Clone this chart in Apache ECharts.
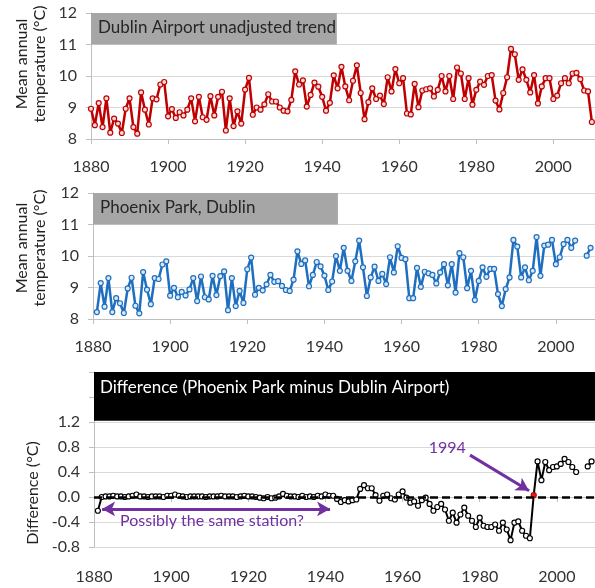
<!DOCTYPE html>
<html>
<head>
<meta charset="utf-8">
<script src="https://cdn.jsdelivr.net/npm/echarts@6/dist/echarts.min.js"></script>
<style>
  html, body { margin: 0; padding: 0; background: #ffffff; }
  #chart { width: 595px; height: 588px; }
</style>
</head>
<body>
<div id="chart"></div>
<script>
// Mean annual temperature (°C), one value per year from 1880 to 2010
const firstYear = 1880;

const airport = [
  8.96, 8.44, 9.14, 8.38, 9.29, 8.20, 8.65, 8.49, 8.19, 8.96,   // 1880s
  9.29, 8.38, 8.17, 9.48, 8.93, 8.46, 9.29, 9.26, 9.73, 9.81,   // 1890s
  8.72, 8.95, 8.67, 8.85, 8.75, 8.93, 9.29, 8.56, 9.34, 8.69,   // 1900s
  8.61, 9.36, 8.75, 9.34, 9.50, 8.27, 9.29, 8.41, 8.88, 8.49,   // 1910s
  9.57, 9.94, 8.77, 9.00, 8.93, 9.10, 9.42, 9.19, 9.19, 9.00,   // 1920s
  8.90, 8.88, 9.24, 10.15, 9.73, 9.86, 9.03, 9.40, 9.79, 9.66,  // 1930s
  9.34, 8.90, 9.15, 10.02, 9.61, 10.29, 9.67, 9.23, 9.85, 10.34, // 1940s
  9.46, 8.63, 9.17, 9.61, 9.27, 9.38, 9.11, 9.96, 9.51, 10.22,  // 1950s
  9.77, 9.93, 8.81, 8.78, 9.75, 9.01, 9.54, 9.58, 9.61, 9.35,   // 1960s
  9.56, 10.00, 9.51, 10.00, 9.27, 10.27, 10.08, 9.27, 9.93, 9.09, // 1970s
  9.56, 9.82, 9.72, 10.00, 10.03, 9.22, 8.94, 9.46, 9.96, 10.86, // 1980s
  10.69, 9.88, 10.21, 9.88, 9.48, 10.03, 9.13, 9.67, 9.93, 9.93, // 1990s
  9.27, 9.38, 9.77, 9.93, 9.77, 10.08, 10.10, 9.90, 9.54, 9.51,  // 2000s
  8.54                                                            // 2010
];

const phoenix = [
  null, 8.22, 9.14, 8.39, 9.30, 8.22, 8.66, 8.50, 8.19, 8.97,   // 1880s
  9.31, 8.42, 8.18, 9.49, 8.93, 8.47, 9.30, 9.27, 9.73, 9.83,   // 1890s
  8.74, 8.99, 8.69, 8.86, 8.75, 8.94, 9.30, 8.57, 9.35, 8.69,   // 1900s
  8.62, 9.37, 8.76, 9.36, 9.51, 8.28, 9.30, 8.41, 8.89, 8.51,   // 1910s
  9.58, 9.95, 8.77, 8.99, 8.91, 9.10, 9.40, 9.18, 9.20, 9.05,   // 1920s
  8.92, 8.89, 9.25, 10.15, 9.75, 9.86, 9.04, 9.40, 9.81, 9.67,  // 1930s
  9.38, 8.92, 9.19, 10.00, 9.53, 10.26, 9.53, 9.21, 9.83, 10.49, // 1940s
  9.64, 8.73, 9.32, 9.66, 9.21, 9.43, 9.11, 9.96, 9.48, 10.31,  // 1950s
  9.94, 9.90, 8.66, 8.66, 9.62, 9.02, 9.50, 9.45, 9.40, 9.13,   // 1960s
  9.48, 9.74, 9.07, 9.74, 8.84, 10.09, 9.96, 8.98, 9.53, 8.60,  // 1970s
  9.21, 9.64, 9.34, 9.59, 9.59, 8.79, 8.41, 8.95, 9.32, 10.51,  // 1980s
  10.30, 9.32, 9.64, 9.23, 9.53, 10.60, 9.37, 10.33, 10.36, 10.51, // 1990s
  9.74, 9.96, 10.38, 10.51, 10.26, 10.49, null, null, 10.01, 10.26, // 2000s
  null                                                              // 2010
];

// Phoenix Park minus Dublin Airport (°C)
const difference = [
  null, -0.22, 0.00, 0.01, 0.01, 0.02, 0.01, 0.01, 0.00, 0.01,  // 1880s
  0.02, 0.04, 0.01, 0.01, 0.00, 0.01, 0.01, 0.01, 0.00, 0.02,   // 1890s
  0.02, 0.04, 0.02, 0.01, 0.00, 0.01, 0.01, 0.01, 0.01, 0.00,   // 1900s
  0.01, 0.01, 0.01, 0.02, 0.01, 0.01, 0.01, 0.00, 0.01, 0.02,   // 1910s
  0.01, 0.01, 0.00, -0.01, -0.02, 0.00, -0.02, -0.01, 0.01, 0.05, // 1920s
  0.02, 0.01, 0.01, 0.00, 0.02, 0.00, 0.01, 0.00, 0.02, 0.01,   // 1930s
  0.04, 0.02, 0.02, -0.03, -0.08, -0.05, -0.07, -0.05, -0.04, 0.13, // 1940s
  0.19, 0.14, 0.14, 0.03, -0.06, 0.02, 0.04, -0.02, -0.04, 0.04, // 1950s
  0.09, -0.01, -0.09, -0.07, -0.14, -0.05, -0.01, -0.11, -0.22, -0.16, // 1960s
  -0.11, -0.20, -0.38, -0.25, -0.41, -0.28, -0.17, -0.30, -0.38, -0.48, // 1970s
  -0.33, -0.46, -0.48, -0.48, -0.44, -0.54, -0.41, -0.52, -0.69, -0.41, // 1980s
  -0.39, -0.54, -0.62, -0.66, 0.03, 0.57, 0.27, 0.56, 0.43, 0.48, // 1990s
  0.49, 0.53, 0.61, 0.56, 0.48, 0.40, null, null, 0.49, 0.57,   // 2000s
  null                                                           // 2010
];

const yearTicks = [1880, 1900, 1920, 1940, 1960, 1980, 2000];
const tempTicks = [8, 9, 10, 11, 12];
const diffTicks = [-0.8, -0.4, 0.0, 0.4, 0.8, 1.2];
const panelTitles = [
  'Dublin Airport unadjusted trend',
  'Phoenix Park, Dublin',
  'Difference (Phoenix Park minus Dublin Airport)'
];
const breakYear = 1994;
const noteSameStation = 'Possibly the same station?';

const years = airport.map((_, i) => firstYear + i);
const pairs = (vals) => years.map((y, i) => [y, vals[i]]);

const FONT = 'Lato, "Open Sans", sans-serif';
const TEXT = '#333333';
const GRID_LINE = '#d9d9d9';
const AXIS_LINE = '#bfbfbf';
const PURPLE = '#7030a0';

const chart = echarts.init(document.getElementById('chart'), null, { renderer: 'canvas' });

function xAxisFor(gridIndex, margin) {
  return {
    type: 'value', gridIndex, min: 1880, max: 2020, interval: 20,
    axisLine: { show: true, lineStyle: { color: AXIS_LINE, width: 1 } },
    axisTick: { show: true, length: 5, lineStyle: { color: AXIS_LINE } },
    splitLine: { show: false },
    axisLabel: {
      margin, fontFamily: FONT, fontSize: 16, color: TEXT,
      formatter: (v) => (yearTicks.includes(v) ? String(v) : '')
    }
  };
}

function yAxisFor(gridIndex, min, max, interval, ticks, digits) {
  return {
    type: 'value', gridIndex, min, max, interval,
    axisLine: { show: true, lineStyle: { color: AXIS_LINE, width: 1 } },
    axisTick: { show: true, length: 5, lineStyle: { color: AXIS_LINE } },
    splitLine: { show: true, lineStyle: { color: GRID_LINE, width: 1 } },
    axisLabel: {
      margin: 14, fontFamily: FONT, fontSize: 16, color: TEXT,
      formatter: (v) => {
        const hit = ticks.some((t) => Math.abs(t - v) < 1e-6);
        return hit ? Number(v).toFixed(digits) : '';
      }
    }
  };
}

function titleBox(fromYear, toYear, yLow, yHigh, fill, text, textColor, position) {
  return {
    silent: true,
    itemStyle: { color: fill, opacity: 1 },
    label: {
      show: true, position,
      fontFamily: FONT, fontSize: 17, color: textColor
    },
    data: [[
      { name: text, xAxis: fromYear, yAxis: yLow },
      { xAxis: toYear, yAxis: yHigh }
    ]]
  };
}

const diffData = years.map((y, i) =>
  y === breakYear
    ? { value: [y, difference[i]], itemStyle: { color: '#e02020', borderColor: '#c00000' } }
    : [y, difference[i]]
);

const option = {
  animation: false,
  backgroundColor: '#ffffff',
  textStyle: { fontFamily: FONT },
  grid: [
    { left: 91, top: 13, width: 539.4, height: 126, outerBoundsMode: 'none', containLabel: false },
    { left: 93, top: 193, width: 540, height: 126, outerBoundsMode: 'none', containLabel: false },
    { left: 94, top: 372, width: 540, height: 175, outerBoundsMode: 'none', containLabel: false }
  ],
  xAxis: [xAxisFor(0, 20), xAxisFor(1, 20), xAxisFor(2, 22)],
  yAxis: [
    yAxisFor(0, 8, 12, 1, tempTicks, 0),
    yAxisFor(1, 8, 12, 1, tempTicks, 0),
    yAxisFor(2, -0.8, 2.0, 0.4, diffTicks, 1)
  ],
  graphic: [
    {
      type: 'text', x: 31, y: 64, rotation: Math.PI / 2,
      style: {
        text: 'Mean annual\ntemperature (°C)', fill: '#222222',
        font: '16px ' + FONT, align: 'center', verticalAlign: 'middle', lineHeight: 18
      }
    },
    {
      type: 'text', x: 31, y: 248, rotation: Math.PI / 2,
      style: {
        text: 'Mean annual\ntemperature (°C)', fill: '#222222',
        font: '16px ' + FONT, align: 'center', verticalAlign: 'middle', lineHeight: 18
      }
    },
    {
      type: 'text', x: 33, y: 493, rotation: Math.PI / 2,
      style: {
        text: 'Difference (°C)', fill: '#222222',
        font: '16px ' + FONT, align: 'center', verticalAlign: 'middle'
      }
    }
  ],
  series: [
    {
      name: 'Dublin Airport', type: 'line', xAxisIndex: 0, yAxisIndex: 0,
      data: pairs(airport),
      symbol: 'circle', symbolSize: 5, showAllSymbol: true,
      lineStyle: { color: '#c00000', width: 2.5 },
      itemStyle: { color: '#f7dcdc', borderColor: '#c00000', borderWidth: 1.2 },
      emphasis: { disabled: true },
      markArea: titleBox(1880, 1943.8, 11, 12, '#a6a6a6', panelTitles[0], '#262626', [7, 6])
    },
    {
      name: 'Phoenix Park', type: 'line', xAxisIndex: 1, yAxisIndex: 1,
      data: pairs(phoenix),
      symbol: 'circle', symbolSize: 5, showAllSymbol: true,
      lineStyle: { color: '#1f6fc0', width: 2.5 },
      itemStyle: { color: '#dbe8f6', borderColor: '#1f6fc0', borderWidth: 1.2 },
      emphasis: { disabled: true },
      markArea: titleBox(1880, 1943.5, 11, 12, '#a6a6a6', panelTitles[1], '#262626', [7, 6])
    },
    {
      name: 'Difference', type: 'line', xAxisIndex: 2, yAxisIndex: 2,
      data: diffData,
      symbol: 'circle', symbolSize: 5, showAllSymbol: true,
      lineStyle: { color: '#000000', width: 2 },
      itemStyle: { color: '#ffffff', borderColor: '#000000', borderWidth: 1.2 },
      emphasis: { disabled: true },
      z: 3,
      markArea: titleBox(1880, 2020, 1.22, 2.0, '#000000', panelTitles[2], '#ffffff', [6, 7]),
      markLine: {
        silent: true,
        symbol: ['none', 'none'],
        label: { show: false },
        data: [
          {
            yAxis: 0,
            lineStyle: { color: '#000000', width: 2.5, type: [8, 4] }
          },
          [
            { coord: [1882.1, -0.19], symbol: 'arrow', symbolSize: [11, 13],
              lineStyle: { color: PURPLE, width: 3, type: 'solid' } },
            { coord: [1941.2, -0.19], symbol: 'arrow', symbolSize: [11, 13] }
          ],
          [
            { coord: [1977.5, 0.67], symbol: 'none',
              lineStyle: { color: PURPLE, width: 3, type: 'solid' } },
            { coord: [1992.8, 0.1], symbol: 'arrow', symbolSize: [11, 13] }
          ]
        ]
      },
      markPoint: {
        silent: true,
        symbol: 'circle', symbolSize: 0,
        label: { show: true, position: 'inside', fontFamily: FONT, fontSize: 16, color: PURPLE,
                 formatter: (p) => p.name },
        data: [
          { name: noteSameStation, coord: [1910.6, -0.38] },
          { name: String(breakYear), coord: [1971.6, 0.78] }
        ]
      }
    }
  ]
};

chart.setOption(option);
</script>
</body>
</html>
